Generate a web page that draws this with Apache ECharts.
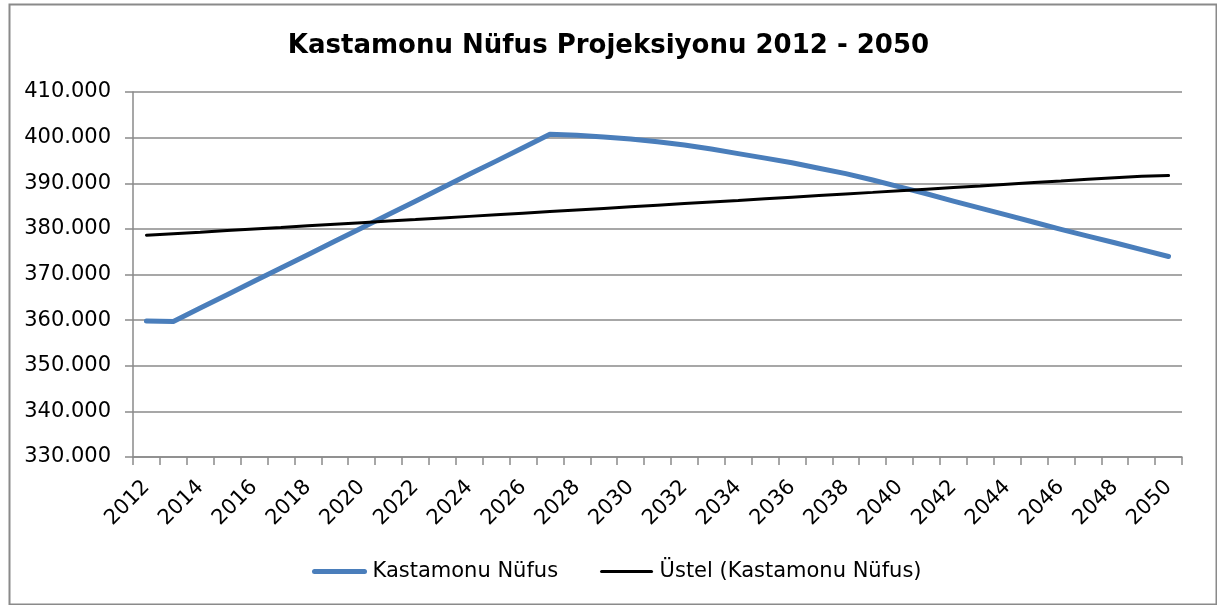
<!DOCTYPE html>
<html>
<head>
<meta charset="utf-8">
<title>Kastamonu Nüfus Projeksiyonu</title>
<script src="https://cdn.jsdelivr.net/npm/echarts@6/dist/echarts.min.js"></script>
<style>
  html, body { margin: 0; padding: 0; background: #fff; }
  #chart-container { width: 1217px; height: 605px; }
</style>
</head>
<body>
<div id="chart-container"></div>
<script>
// years on the category axis
const years = [];
for (let y = 2012; y <= 2050; y++) years.push(String(y));

// population
const nufus = [
  359800, 359700, 362650, 365550, 368500, 371400, 374350, 377300, 380200, 383150,
  386050, 389000, 391950, 394850, 397800, 400750, 400500, 400150, 399700, 399100,
  398400, 397500, 396500, 395500, 394500, 393300, 392100, 390700, 389200, 387700,
  386100, 384550, 383000, 381450, 379900, 378400, 376950, 375450, 373950
];

// exponential trend line (black)
const ustel = [
  378600, 378940, 379280, 379630, 379970, 380310, 380660, 381000, 381350, 381700,
  382040, 382390, 382740, 383090, 383440, 383790, 384140, 384490, 384840, 385190,
  385540, 385890, 386240, 386600, 386950, 387300, 387650, 388000, 388360, 388710,
  389070, 389420, 389780, 390140, 390490, 390850, 391210, 391560, 391700
];

const seriesNames = ["Kastamonu Nüfus", "Üstel (Kastamonu Nüfus)"];
const seriesColors = ["#4a7ebb", "#000000"];
const lineWidths = [5, 3];

const fontFamily = "'DejaVu Sans', Verdana, sans-serif";
const gridColor = "#8a8a8a";

var chartDom = document.getElementById("chart-container");
var myChart = echarts.init(chartDom, null, { renderer: "canvas" });

function fmt(v) {
  return String(v).replace(/\B(?=(\d{3})+(?!\d))/g, ".");
}

var option = {
  backgroundColor: "#fff",
  animation: false,
  textStyle: { fontFamily: fontFamily },
  title: {
    text: "Kastamonu Nüfus Projeksiyonu 2012 - 2050",
    left: "center",
    top: 28,
    textStyle: { fontFamily: fontFamily, fontSize: 26, fontWeight: "bold", color: "#000" }
  },
  graphic: [{
    type: "rect",
    left: 7,
    top: 2,
    shape: { width: 1207, height: 600 },
    style: { fill: "none", stroke: gridColor, lineWidth: 2 },
    silent: true
  }],
  legend: {
    left: 307,
    top: 556,
    itemGap: 42,
    itemWidth: 50,
    itemHeight: 14,
    textStyle: { fontFamily: fontFamily, fontSize: 21, color: "#000", padding: [0, 0, 0, 3] },
    data: seriesNames.map((name, i) => ({
      name: name,
      itemStyle: { opacity: 0 },
      lineStyle: { color: seriesColors[i], width: lineWidths[i], cap: "round" }
    }))
  },
  grid: { left: 133, right: 35, top: 92, bottom: 148, containLabel: false },
  xAxis: {
    type: "category",
    data: years,
    boundaryGap: true,
    axisLine: { show: true, lineStyle: { color: gridColor, width: 1.5 } },
    axisTick: { show: true, interval: 0, length: 8, lineStyle: { color: gridColor, width: 1.5 } },
    axisLabel: {
      interval: 1,
      rotate: 45,
      margin: 27,
      fontSize: 21,
      color: "#000",
      fontFamily: fontFamily
    },
    splitLine: { show: false }
  },
  yAxis: {
    type: "value",
    min: 330000,
    max: 410000,
    interval: 10000,
    axisLine: { show: true, lineStyle: { color: gridColor, width: 1.5 } },
    axisTick: { show: true, length: 8, lineStyle: { color: gridColor, width: 1.5 } },
    axisLabel: {
      margin: 22,
      fontSize: 21,
      color: "#000",
      fontFamily: fontFamily,
      formatter: fmt
    },
    splitLine: { show: true, lineStyle: { color: gridColor, width: 1.5 } }
  },
  series: [
    {
      name: seriesNames[0],
      type: "line",
      data: nufus,
      symbol: "none",
      smooth: false,
      color: seriesColors[0],
      lineStyle: { color: seriesColors[0], width: lineWidths[0], cap: "round", join: "round" },
      z: 3
    },
    {
      name: seriesNames[1],
      type: "line",
      data: ustel,
      symbol: "none",
      color: seriesColors[1],
      lineStyle: { color: seriesColors[1], width: lineWidths[1], cap: "round" },
      z: 4
    }
  ]
};

option && myChart.setOption(option);
</script>
</body>
</html>
